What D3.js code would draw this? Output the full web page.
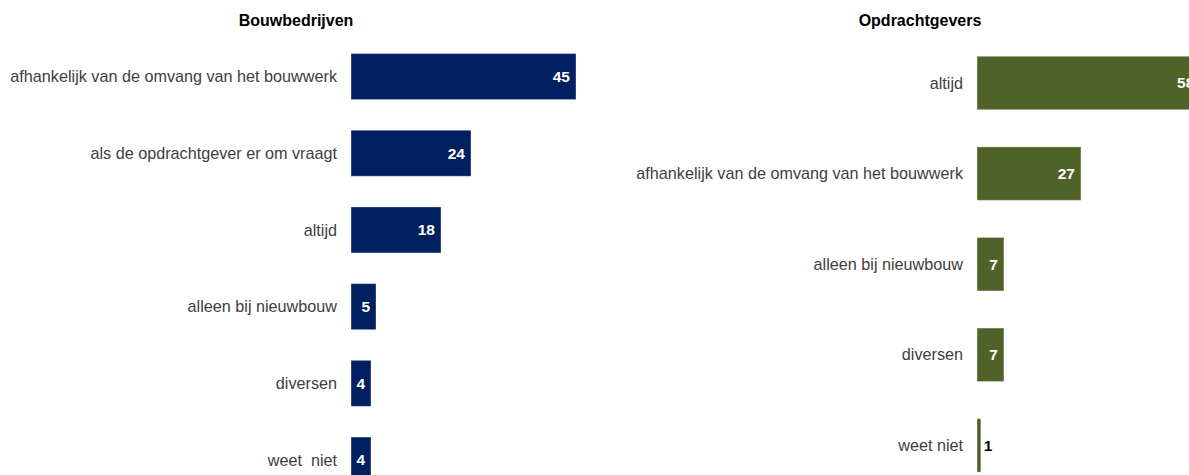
<!DOCTYPE html>
<html>
<head>
<meta charset="utf-8">
<script src="https://cdn.jsdelivr.net/npm/d3@7"></script>
<style>
  html, body { margin: 0; padding: 0; background: #fff; overflow: hidden; }
  svg { display: block; font-family: "Liberation Sans", Arial, sans-serif; }
</style>
</head>
<body>
<svg id="chart" width="1189" height="475"></svg>
<script>
// Construction firms panel
const bouwCategories = [
  "afhankelijk van de omvang van het bouwwerk",
  "als de opdrachtgever er om vraagt",
  "altijd",
  "alleen bij nieuwbouw",
  "diversen",
  "weet  niet"
];
const bouwValues = [45, 24, 18, 5, 4, 4];

// Clients panel
const opdrCategories = [
  "altijd",
  "afhankelijk van de omvang van het bouwwerk",
  "alleen bij nieuwbouw",
  "diversen",
  "weet niet"
];
const opdrValues = [58, 27, 7, 7, 1];

const panelTitles = ["Bouwbedrijven", "Opdrachtgevers"];

const svg = d3.select("#chart");

function drawPanel(cfg) {
  const g = svg.append("g");

  const y = d3.scaleBand()
    .domain(cfg.categories)
    .range(cfg.yRange)
    .paddingInner(cfg.padInner)
    .paddingOuter(cfg.padInner / 2);

  const x = d3.scaleLinear()
    .domain([0, cfg.xMax])
    .range([cfg.x0, cfg.x1]);

  const rows = cfg.categories.map((c, i) => ({ cat: c, val: cfg.values[i] }));

  g.append("text")
    .attr("x", cfg.titleX)
    .attr("y", 26)
    .attr("text-anchor", "middle")
    .attr("font-size", 16)
    .attr("font-weight", "bold")
    .attr("fill", "#000")
    .text(cfg.title);

  g.selectAll("rect.bar")
    .data(rows)
    .join("rect")
    .attr("class", "bar")
    .attr("x", x(0))
    .attr("y", d => y(d.cat))
    .attr("width", d => x(d.val) - x(0))
    .attr("height", y.bandwidth())
    .attr("fill", cfg.color)
    .attr("stroke", "#ffffff")
    .attr("stroke-opacity", 0.35)
    .attr("stroke-width", 1);

  // category labels, right-aligned next to the axis
  g.selectAll("text.cat")
    .data(rows)
    .join("text")
    .attr("class", "cat")
    .attr("x", x(0) - 14)
    .attr("y", d => y(d.cat) + y.bandwidth() / 2)
    .attr("dy", "0.35em")
    .attr("text-anchor", "end")
    .attr("font-size", 16.2)
    .attr("fill", "#404040")
    .style("white-space", "pre")
    .text(d => d.cat);

  // value labels: inside the bar end, or just outside when the bar is too thin
  g.selectAll("text.val")
    .data(rows)
    .join("text")
    .attr("class", "val")
    .each(function (d) {
      const w = x(d.val) - x(0);
      const inside = w >= 16;
      d3.select(this)
        .attr("x", inside ? x(d.val) - 6 : x(d.val) + 3)
        .attr("text-anchor", inside ? "end" : "start")
        .attr("fill", inside ? "#ffffff" : "#000000");
    })
    .attr("y", d => y(d.cat) + y.bandwidth() / 2)
    .attr("dy", "0.35em")
    .attr("font-size", 15.5)
    .attr("font-weight", "bold")
    .text(d => d.val);
}

drawPanel({
  title: panelTitles[0],
  titleX: 296,
  categories: bouwCategories,
  values: bouwValues,
  xMax: 45,
  x0: 351,
  x1: 576,
  yRange: [38.2, 38.2 + 6 * 76.7],
  padInner: 0.4,
  color: "#002060"
});

drawPanel({
  title: panelTitles[1],
  titleX: 920,
  categories: opdrCategories,
  values: opdrValues,
  xMax: 58,
  x0: 977,
  x1: 977 + 58 * 3.85,
  yRange: [37.7, 37.7 + 5 * 90.6],
  padInner: 0.41,
  color: "#4F6228"
});
</script>
</body>
</html>
